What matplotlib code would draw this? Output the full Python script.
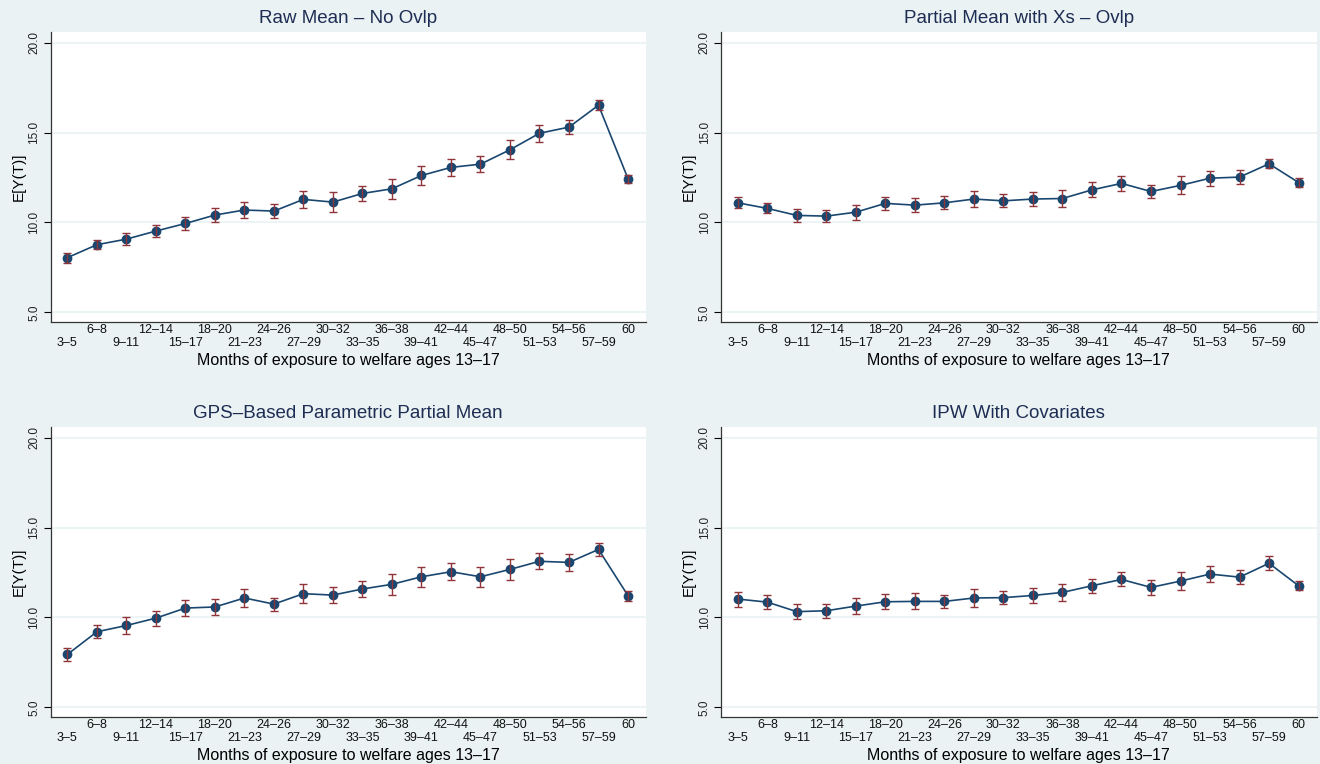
import numpy as np
import matplotlib
matplotlib.use("Agg")
import matplotlib.pyplot as plt

plt.rcParams['font.family'] = ['Liberation Sans', 'DejaVu Sans']

labels = ["3–5", "6–8", "9–11", "12–14", "15–17", "18–20", "21–23", "24–26",
          "27–29", "30–32", "33–35", "36–38", "39–41", "42–44", "45–47",
          "48–50", "51–53", "54–56", "57–59", "60"]

raw_mean = [8.04, 8.76, 9.07, 9.52, 9.94, 10.41, 10.69, 10.63, 11.28, 11.13,
            11.61, 11.87, 12.61, 13.06, 13.24, 14.04, 14.96, 15.30, 16.52, 12.43]
raw_err = [0.28, 0.26, 0.33, 0.31, 0.37, 0.41, 0.43, 0.39, 0.49, 0.54,
           0.41, 0.56, 0.51, 0.48, 0.45, 0.53, 0.46, 0.40, 0.28, 0.22]

partial_mean = [11.09, 10.78, 10.39, 10.35, 10.57, 11.06, 10.96, 11.09, 11.30, 11.20,
                11.30, 11.33, 11.81, 12.17, 11.72, 12.06, 12.46, 12.52, 13.26, 12.22]
partial_err = [0.30, 0.28, 0.34, 0.33, 0.42, 0.36, 0.38, 0.36, 0.43, 0.36,
               0.37, 0.48, 0.42, 0.41, 0.38, 0.50, 0.42, 0.37, 0.26, 0.25]

gps_mean = [7.94, 9.20, 9.55, 9.96, 10.52, 10.58, 11.08, 10.74, 11.32, 11.24,
            11.58, 11.84, 12.26, 12.54, 12.26, 12.67, 13.12, 13.06, 13.78, 11.21]
gps_err = [0.37, 0.37, 0.45, 0.42, 0.44, 0.45, 0.48, 0.36, 0.53, 0.46,
           0.45, 0.57, 0.56, 0.46, 0.56, 0.59, 0.44, 0.48, 0.34, 0.28]

ipw_mean = [11.02, 10.85, 10.32, 10.37, 10.63, 10.87, 10.89, 10.89, 11.08, 11.10,
            11.22, 11.39, 11.76, 12.11, 11.67, 12.02, 12.41, 12.24, 13.01, 11.76]
ipw_err = [0.42, 0.37, 0.43, 0.38, 0.44, 0.42, 0.44, 0.36, 0.48, 0.38,
           0.40, 0.47, 0.40, 0.39, 0.40, 0.50, 0.43, 0.40, 0.38, 0.26]

titles = ["Raw Mean – No Ovlp", "Partial Mean with Xs – Ovlp",
          "GPS–Based Parametric Partial Mean", "IPW With Covariates"]

bg = "#EAF2F3"
navy = "#1A476F"
maroon = "#90353B"

fig = plt.figure(figsize=(13.2, 7.64), dpi=100, facecolor=bg)

positions = [
    [0.0383, 0.5785, 0.4511, 0.3796],
    [0.5462, 0.5785, 0.4512, 0.3796],
    [0.0383, 0.0615, 0.4511, 0.3796],
    [0.5462, 0.0615, 0.4512, 0.3796],
]
series = [(raw_mean, raw_err), (partial_mean, partial_err),
          (gps_mean, gps_err), (ipw_mean, ipw_err)]

x = np.arange(len(labels))

for pos, (m, e), title in zip(positions, series, titles):
    ax = fig.add_axes(pos)
    ax.set_facecolor("white")
    ax.plot(x, m, color=navy, lw=1.2, marker="o", ms=6, mfc=navy, mec=navy, zorder=3)
    ax.errorbar(x, m, yerr=e, fmt="none", ecolor=maroon, elinewidth=1.0,
                capsize=3, capthick=1.0, zorder=4)

    ax.set_xlim(-0.57, 19.61)
    ax.set_ylim(4.46, 20.59)
    ax.set_yticks([5, 10, 15, 20])
    ax.set_yticklabels(["5.0", "10.0", "15.0", "20.0"], rotation=90, va="center",
                       fontsize=8.5, color="#222222")
    ax.grid(axis="y", color=bg, lw=1.2)
    ax.set_axisbelow(True)

    # alternate the category labels over two rows
    ax.set_xticks(x[::2])
    ax.set_xticklabels(labels[::2], fontsize=9, color="#111111")
    ax.set_xticks(x[1::2], minor=True)
    ax.set_xticklabels(labels[1::2], minor=True, fontsize=9, color="#111111")
    ax.tick_params(axis="x", which="major", length=0, pad=10.8)
    ax.tick_params(axis="x", which="minor", length=0, pad=1.5)
    ax.tick_params(axis="y", length=5, width=0.8, pad=2.5)

    for s in ["top", "right"]:
        ax.spines[s].set_visible(False)
    for s in ["left", "bottom"]:
        ax.spines[s].set_color("#333333")
        ax.spines[s].set_linewidth(0.9)

    ax.set_ylabel("E[Y(T)]", fontsize=11, labelpad=2)
    ax.set_xlabel("Months of exposure to welfare ages 13–17", fontsize=11.5, labelpad=3)
    ax.set_title(title, fontsize=13.5, color="#1E2D53", pad=6.5)

fig.savefig("out.png", dpi=100, facecolor=bg)
